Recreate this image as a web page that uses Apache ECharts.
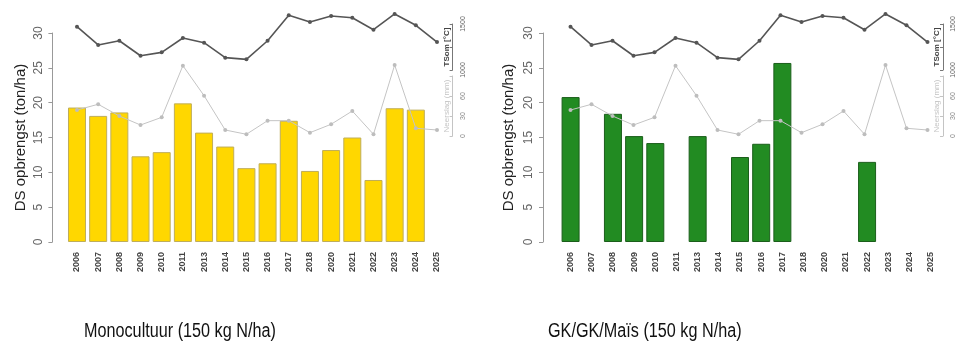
<!DOCTYPE html>
<html>
<head>
<meta charset="utf-8">
<script src="https://cdn.jsdelivr.net/npm/echarts@6/dist/echarts.min.js"></script>
<style>
  html, body { margin: 0; padding: 0; background: #fff; }
  #chart { width: 957px; height: 342px; }
</style>
</head>
<body>
<div id="chart"></div>
<script>
// jaren (categorie-as), zelfde voor beide panelen
const years = ['2006', '2007', '2008', '2009', '2010', '2011', '2013', '2014', '2015',
  '2016', '2017', '2018', '2020', '2021', '2022', '2023', '2024', '2025'];

// DS opbrengst (ton/ha)
const monoYield = [19.3, 18.1, 18.6, 12.3, 12.9, 19.9, 15.7, 13.7, 10.6,
  11.3, 17.4, 10.2, 13.2, 15.0, 8.9, 19.2, 19.0, null];
const rotYield = [20.8, null, 18.4, 15.2, 14.2, null, 15.2, null, 12.2,
  14.1, 25.7, null, null, null, 11.5, null, null, null];

// temperatuursom en neerslag (rechtse assen)
const tsom = [1471, 1272, 1318, 1155, 1192, 1348, 1297, 1134, 1116,
  1318, 1595, 1522, 1587, 1568, 1438, 1609, 1486, 1304];
const neerslag = [39, 47.6, 30, 16.5, 28, 105.5, 60.5, 9, 2.6,
  23, 23, 5, 17.6, 37.5, 2.6, 106.5, 11.6, 9];

const tsomTicks = { min: 1000, max: 1500, interval: 250, show: [1000, 1500] };
const rainTicks = { min: 0, max: 90, interval: 30, show: [0, 30, 60] };

const captions = ['Monocultuur (150 kg N/ha)', 'GK/GK/Maïs (150 kg N/ha)'];

const chart = echarts.init(document.getElementById('chart'));

// paneel: linkerrand grid, offset y-as, kleur staven
const panels = [
  { left: 66.4, yOff: 14, nameGap: 24, data: monoYield, color: '#FFD700', border: '#bfae5a', capX: 84 },
  { left: 560, yOff: 17, nameGap: 27, data: rotYield, color: '#228B22', border: '#1b5e1b', capX: 548 },
];
const W = 381.2;

const grid = [], xAxis = [], yAxis = [], series = [], graphic = [];

panels.forEach((p, k) => {
  const g0 = grid.length;
  grid.push({ left: p.left, width: W, top: 33, height: 209 });   // staven
  grid.push({ left: p.left, width: W, top: 24, height: 46 });    // TSom
  grid.push({ left: p.left, width: W, top: 76, height: 60 });    // neerslag

  // x-assen
  xAxis.push({
    gridIndex: g0, type: 'category', data: years,
    axisLine: { show: false }, axisTick: { show: false },
    axisLabel: { rotate: 90, fontSize: 9, fontWeight: 'bold', color: '#444', margin: 10, fontFamily: 'Liberation Sans' },
  });
  for (let j = 1; j < 3; j++) {
    xAxis.push({ gridIndex: g0 + j, type: 'category', data: years, show: false });
  }

  // y-as opbrengst
  yAxis.push({
    gridIndex: g0, type: 'value', min: 0, max: 30, interval: 5, position: 'left', offset: p.yOff,
    name: 'DS opbrengst (ton/ha)', nameLocation: 'middle', nameGap: p.nameGap, nameRotate: 90,
    nameTextStyle: { fontSize: 15, color: '#222', fontFamily: 'Liberation Sans' },
    axisLine: { show: true, lineStyle: { color: '#999' } },
    axisTick: { show: true, length: 4, lineStyle: { color: '#999' } },
    axisLabel: { rotate: 90, fontSize: 12, color: '#666', margin: 8, fontFamily: 'Liberation Sans' },
    splitLine: { show: false },
  });
  // y-as TSom
  yAxis.push({
    gridIndex: g0 + 1, type: 'value', min: tsomTicks.min, max: tsomTicks.max, interval: tsomTicks.interval,
    position: 'right', offset: 5,
    name: 'TSom [°C]', nameLocation: 'middle', nameGap: -10, nameRotate: 90,
    nameTextStyle: { fontSize: 8, fontWeight: 'bold', color: '#444', fontFamily: 'Liberation Sans' },
    axisLine: { show: true, lineStyle: { color: '#777' } },
    axisTick: { show: true, length: 3, inside: true, lineStyle: { color: '#777' } },
    axisLabel: { rotate: 90, fontSize: 7, color: '#666', margin: 7, fontFamily: 'Liberation Sans',
      formatter: v => tsomTicks.show.includes(v) ? String(v) : '' },
    splitLine: { show: false },
  });
  // y-as neerslag
  yAxis.push({
    gridIndex: g0 + 2, type: 'value', min: rainTicks.min, max: rainTicks.max, interval: rainTicks.interval,
    position: 'right', offset: 5,
    name: 'Neerslag (mm)', nameLocation: 'middle', nameGap: -10, nameRotate: 90,
    nameTextStyle: { fontSize: 8, color: '#c4c4c4', fontFamily: 'Liberation Sans' },
    axisLine: { show: true, lineStyle: { color: '#c4c4c4' } },
    axisTick: { show: true, length: 3, inside: true, lineStyle: { color: '#c4c4c4' } },
    axisLabel: { rotate: 90, fontSize: 7, color: '#888', margin: 7, fontFamily: 'Liberation Sans',
      formatter: v => rainTicks.show.includes(v) ? String(v) : '' },
    splitLine: { show: false },
  });

  series.push({
    type: 'bar', xAxisIndex: g0, yAxisIndex: g0, data: p.data, barWidth: 18,
    itemStyle: { color: p.color, borderColor: p.border, borderWidth: 1 },
    z: 1,
  });
  series.push({
    type: 'line', xAxisIndex: g0 + 1, yAxisIndex: g0 + 1, data: tsom, clip: false,
    symbol: 'circle', symbolSize: 4,
    lineStyle: { color: '#555', width: 1.6 }, itemStyle: { color: '#555' },
    z: 3,
  });
  series.push({
    type: 'line', xAxisIndex: g0 + 2, yAxisIndex: g0 + 2, data: neerslag, clip: false,
    symbol: 'circle', symbolSize: 4,
    lineStyle: { color: '#c4c4c4', width: 1 }, itemStyle: { color: '#bdbdbd' },
    z: 2,
  });

  // onderschrift, horizontaal versmald
  graphic.push({
    type: 'text', x: p.capX, y: 321, scaleX: 0.81,
    style: { text: captions[k], fontSize: 20, fill: '#111', fontFamily: 'Liberation Sans',
      textVerticalAlign: 'top' },
  });
});

chart.setOption({
  animation: false,
  grid, xAxis, yAxis, series, graphic,
});
</script>
</body>
</html>
